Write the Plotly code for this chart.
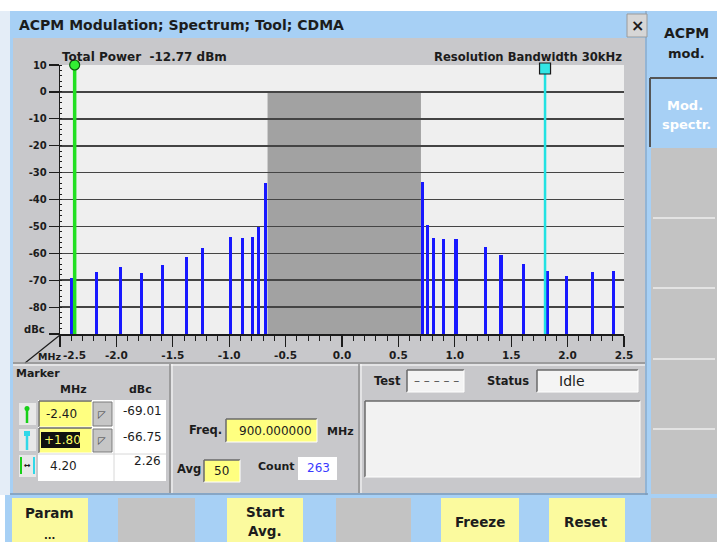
import plotly.graph_objects as go

# ---------------- data ----------------
freq_mhz = [-2.40, -2.18, -1.96, -1.78, -1.59, -1.38, -1.24, -0.99, -0.88, -0.79, -0.74, -0.68,
            0.71, 0.76, 0.81, 0.90, 1.01, 1.27, 1.41, 1.61, 1.82, 1.99, 2.22, 2.41]
level_dbc = [-69.0, -66.8, -65.2, -67.4, -64.5, -61.5, -57.9, -53.8, -54.2, -53.8, -50.3, -34.0,
             -33.4, -49.6, -54.2, -54.8, -54.8, -57.8, -60.6, -64.0, -66.75, -68.3, -66.8, -66.6]
occupied_band = [-0.66, 0.70]
marker_x = [-2.37, 1.80]
marker_top = [10, 8.7]
x_ticks = [-2.5, -2.0, -1.5, -1.0, -0.5, 0.0, 0.5, 1.0, 1.5, 2.0, 2.5]
x_ticktext = ["", "-2.0", "-1.5", "-1.0", "-0.5", "0.0", "0.5", "1.0", "1.5", "2.0", "2.5"]
y_ticks = [10, 0, -10, -20, -30, -40, -50, -60, -70, -80, -90]
y_ticktext = ["10", "0", "-10", "-20", "-30", "-40", "-50", "-60", "-70", "-80", ""]
y_floor = -90
y_top = 10

W, H = 717, 542
def X(x): return x / W
def Y(y): return 1 - y / H

FONT = "DejaVu Sans"
TXT = "#1c1c1c"
BLUE_UI = "#a7d0f5"
PANEL = "#c8c8cb"
YEL = "#ffff80"
BTN_Y = "#fbfa9e"
BTN_G = "#c3c3c3"

shapes = []
ann = []

def rect(x0, y0, x1, y1, fill, line=None, lw=0):
    shapes.append(dict(type="rect", xref="paper", yref="paper", x0=X(x0), x1=X(x1),
                       y0=Y(y1), y1=Y(y0), fillcolor=fill,
                       line=dict(width=lw, color=line or fill), layer="below"))

def seg(x0, y0, x1, y1, color, w=1):
    shapes.append(dict(type="line", xref="paper", yref="paper", x0=X(x0), x1=X(x1),
                       y0=Y(y0), y1=Y(y1), line=dict(color=color, width=w), layer="below"))

def sunken(x0, y0, x1, y1, fill):
    rect(x0, y0, x1, y1, fill)
    seg(x0, y0, x1, y0, "#6a6a6a", 1.5)
    seg(x0, y0, x0, y1, "#6a6a6a", 1.5)
    seg(x0, y1, x1, y1, "#ffffff", 1)
    seg(x1, y0, x1, y1, "#ffffff", 1)

def txt(x, y, s, size=11, color=TXT, anchor="left", bold=True):
    ann.append(dict(xref="paper", yref="paper", x=X(x), y=Y(y), text=(f"<b>{s}</b>" if bold else s),
                    xanchor=anchor, yanchor="middle", showarrow=False,
                    font=dict(family=FONT, size=size, color=color)))

# ---------------- UI frame ----------------
rect(0, 11, 10, 495, "#e4edf7")
rect(10, 11, 648, 495, BLUE_UI)               # window frame / title bar
rect(13, 38, 645, 493, PANEL)                  # window body
rect(648, 11, 717, 495, BLUE_UI)               # right column
rect(5, 495, 717, 542, BLUE_UI)                # bottom strip
seg(10, 494, 648, 494, "#7d98b5", 1.5)
seg(646, 11, 646, 495, "#7d98b5", 1)

# title
txt(17, 25, "ACPM Modulation; Spectrum; Tool; CDMA", 14)
rect(627, 14, 647, 37, "#d6d6d6", "#9a9a9a", 1)
txt(637, 25, "×", 16, anchor="center")

# plot area fill
rect(60, 65, 624, 334, "#efefef")
txt(60, 57, "Total Power\u00a0\u00a0-12.77 dBm", 12)
txt(624, 57, "Resolution Bandwidth 30kHz", 11.6, anchor="right")
txt(47, 329, "dBc", 10, anchor="right")
seg(25, 363, 60, 335, "#1c1c1c", 1.2)
txt(36, 356, "MHz", 9.5)
txt(74, 355, "-2.5", 10.5, anchor="center")

# separators lower panels
seg(13, 363, 645, 363, "#8e8e8e", 1.5)
seg(13, 365, 645, 365, "#ffffff", 1)
seg(170, 364, 170, 493, "#8e8e8e", 1.5)
seg(172, 364, 172, 493, "#ffffff", 1)
seg(359, 364, 359, 493, "#8e8e8e", 1.5)
seg(361, 364, 361, 493, "#ffffff", 1)

# marker panel
txt(14, 373, "Marker", 11)
txt(73, 389, "MHz", 11, anchor="center")
txt(140, 389, "dBc", 11, anchor="center")
rect(38, 400, 166, 481, "#ffffff")
for y0, y1 in [(401, 427), (428, 453)]:
    sunken(39, y0, 92, y1, YEL)
    rect(93, y0 + 1, 112, y1 - 1, "#c6c6c6", "#7a7a7a", 1)
    txt(102, (y0 + y1) / 2, "◸", 10, color="#444444", anchor="center", bold=False)
    rect(115, y0, 165, y1, "#ffffff")
seg(114, 400, 114, 481, "#d8d8d8", 1)
seg(38, 454, 166, 454, "#d8d8d8", 1)
txt(44, 414, "-2.40", 12, bold=False)
rect(41, 432, 80, 448, "#111111")
txt(42, 440, "+1.80", 12, color="#ffff66", bold=False)
txt(164, 411, "-69.01", 12, anchor="right", bold=False)
txt(164, 437, "-66.75", 12, anchor="right", bold=False)
txt(48, 466, "4.20", 12, bold=False)
txt(163, 461, "2.26", 12, anchor="right", bold=False)
# marker icons
for yc in (414, 440, 466):
    rect(19, yc - 11, 36, yc + 11, "#e8e8e8")
seg(27, 409, 27, 423, "#18d018", 2.5)
shapes.append(dict(type="circle", xref="paper", yref="paper", x0=X(24.5), x1=X(29.5), y0=Y(411), y1=Y(406),
                   fillcolor="#18d018", line=dict(width=0), layer="below"))
seg(27, 436, 27, 450, "#30d8e8", 2.5)
rect(24, 431, 30, 436, "#30d8e8")
seg(21, 457, 21, 474, "#18d018", 2)
seg(34, 457, 34, 474, "#30d8e8", 2)
txt(27.5, 465, "↔", 8, anchor="center")

# freq panel
txt(187, 430, "Freq.", 11.5)
sunken(226, 419, 317, 442, YEL)
txt(314, 431, "900.000000", 12, anchor="right", bold=False)
txt(325, 431, "MHz", 11)
txt(175, 469, "Avg", 11.5)
sunken(204, 460, 240, 482, YEL)
txt(222, 471, "50", 12, anchor="center", bold=False)
txt(256, 466, "Count", 11)
rect(298, 457, 337, 480, "#ffffff")
txt(318, 468, "263", 12, color="#3a3aff", anchor="center", bold=False)

# test / status panel
txt(372, 381, "Test", 11.5)
sunken(407, 370, 464, 392, "#f4f4f4")
txt(436, 381, "– – – – –", 12, color="#555555", anchor="center", bold=False)
txt(485, 381, "Status", 11.5)
sunken(537, 370, 638, 392, "#f4f4f4")
txt(557, 381, "Idle", 14, bold=False)
sunken(365, 401, 640, 477, "#f2f2f2")

# right column
txt(686, 33, "ACPM", 14, anchor="center")
txt(686, 53, "mod.", 13, anchor="center")
rect(650, 78, 717, 147, BLUE_UI)
seg(650, 78, 717, 78, "#555555", 2)
seg(650, 78, 650, 147, "#555555", 2)
txt(685, 105, "Mod.", 13, color="#ffffff", anchor="center")
txt(686, 125, "spectr.", 13, color="#ffffff", anchor="center")
rect(651, 148, 717, 494, BTN_G)
for yl in (218, 288, 359, 429):
    seg(653, yl, 715, yl, "#eeeeee", 1.5)

# bottom soft keys
for x0, x1, col in [(12, 88, BTN_Y), (118, 195, BTN_G), (227, 303, BTN_Y), (336, 411, BTN_G),
                    (441, 519, BTN_Y), (549, 625, BTN_Y), (651, 717, BTN_G)]:
    rect(x0, 498, x1, 542, col)
txt(49, 513, "Param", 13.5, anchor="center")
txt(49, 535, "...", 10, anchor="center")
txt(265, 512, "Start", 13.5, anchor="center")
txt(265, 531, "Avg.", 13.5, anchor="center")
txt(480, 522, "Freeze", 13.5, anchor="center")
txt(586, 522, "Reset", 13.5, anchor="center")

# occupied band (data coordinates)
shapes.append(dict(type="rect", xref="x", yref="y", x0=occupied_band[0], x1=occupied_band[1],
                   y0=y_floor, y1=0, fillcolor="#a2a2a2", line=dict(width=0), layer="below"))

# ---------------- traces ----------------
fig = go.Figure()
fig.add_trace(go.Bar(x=freq_mhz, y=[v - y_floor for v in level_dbc], base=y_floor, width=0.028,
                     marker=dict(color="#1818ff", line=dict(width=0)), showlegend=False))
fig.add_trace(go.Scatter(x=[marker_x[0]] * 2, y=[y_floor, marker_top[0]], mode="lines",
                         line=dict(color="#22e022", width=3.5), showlegend=False))
fig.add_trace(go.Scatter(x=[marker_x[1]] * 2, y=[y_floor, marker_top[1]], mode="lines",
                         line=dict(color="#22e2e2", width=2.5), showlegend=False))
fig.add_trace(go.Scatter(x=[marker_x[0]], y=[marker_top[0]], mode="markers", cliponaxis=False,
                         marker=dict(symbol="circle", size=10, color="#33ee33",
                                     line=dict(color="#0c5a0c", width=1.2)), showlegend=False))
fig.add_trace(go.Scatter(x=[marker_x[1]], y=[marker_top[1]], mode="markers", cliponaxis=False,
                         marker=dict(symbol="square", size=11, color="#33e6e6",
                                     line=dict(color="#1a1a1a", width=1.2)), showlegend=False))

fig.update_layout(
    width=W, height=H, autosize=False, showlegend=False,
    margin=dict(l=0, r=0, t=0, b=0, pad=0, autoexpand=False),
    paper_bgcolor="#ffffff", plot_bgcolor="rgba(0,0,0,0)",
    shapes=shapes, annotations=ann, bargap=0,
    xaxis=dict(domain=[X(60), X(624)], range=[-2.5, 2.5], tickvals=x_ticks, ticktext=x_ticktext,
               automargin=False,
               ticks="outside", ticklen=11, tickwidth=1.2, tickcolor="#1c1c1c",
               showline=True, linecolor="#1c1c1c", linewidth=1.5, showgrid=False, zeroline=False,
               minor=dict(dtick=0.1, ticks="outside", ticklen=5, tickcolor="#1c1c1c", tickwidth=1),
               tickfont=dict(family=FONT, size=10.5, color=TXT, weight="bold"), fixedrange=True),
    yaxis=dict(domain=[Y(334), Y(65)], range=[y_floor, y_top], tickvals=y_ticks, ticktext=y_ticktext,
               automargin=False,
               ticks="outside", ticklen=10, tickwidth=1.2, tickcolor="#1c1c1c",
               showline=True, linecolor="#1c1c1c", linewidth=1.2,
               showgrid=True, gridcolor="#444444", gridwidth=1.6, zeroline=False,
               minor=dict(dtick=2, ticks="inside", ticklen=2, tickcolor="#1c1c1c", tickwidth=1),
               tickfont=dict(family=FONT, size=10, color=TXT, weight="bold"), fixedrange=True),
)

fig.write_html("out.html", config={"displayModeBar": False, "staticPlot": True},
               post_script="var gd=document.getElementById('{plot_id}');"
                           "document.body.style.margin='0px';document.body.style.padding='0px';"
                           "document.documentElement.style.overflow='hidden';"
                           "gd.style.position='fixed';gd.style.left='0px';gd.style.top='0px';")
